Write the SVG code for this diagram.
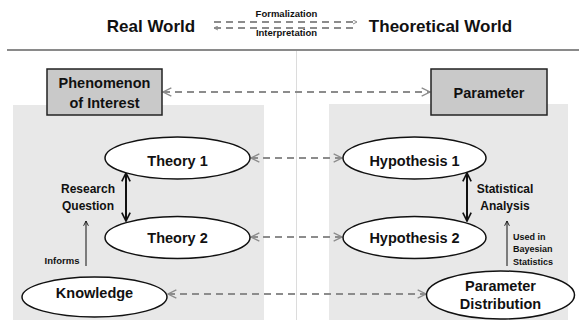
<svg xmlns="http://www.w3.org/2000/svg" width="579" height="320" viewBox="0 0 579 320">
<defs>
<style>
text{font-family:"Liberation Sans",Arial,sans-serif;font-weight:bold;fill:#111;text-anchor:middle}
.title{font-size:17px}
.node{font-size:14.5px}
.lab{font-size:12px}
.small{font-size:9.5px}
.tiny{font-size:9px;text-anchor:start}
.panel{fill:#e8e8e8}
.box{fill:#c9c9c9;stroke:#222;stroke-width:1.5}
.ell{fill:#fff;stroke:#111;stroke-width:1.5}
.dash{stroke:#8c8c8c;stroke-width:2;stroke-dasharray:7 5;fill:none}
.solid{stroke:#111;stroke-width:2;fill:none}
.thin{stroke:#111;stroke-width:1;fill:none}
</style>
<marker id="ga" viewBox="0 0 10 10" refX="9" refY="5" markerWidth="5" markerHeight="5" orient="auto-start-reverse" markerUnits="userSpaceOnUse" >
<path d="M1,1 L9,5 L1,9" fill="none" stroke="#8c8c8c" stroke-width="2"/>
</marker>
<marker id="gb" viewBox="0 0 12 12" refX="11" refY="6" markerWidth="10" markerHeight="10" orient="auto-start-reverse" markerUnits="userSpaceOnUse">
<path d="M1,1 L11,6 L1,11" fill="none" stroke="#8c8c8c" stroke-width="1.6"/>
</marker>
<marker id="ka" viewBox="0 0 12 12" refX="11" refY="6" markerWidth="10" markerHeight="10" orient="auto-start-reverse" markerUnits="userSpaceOnUse">
<path d="M1,1 L11,6 L1,11" fill="none" stroke="#111" stroke-width="2"/>
</marker>
<marker id="kt" viewBox="0 0 10 10" refX="9" refY="5" markerWidth="6" markerHeight="6" orient="auto" markerUnits="userSpaceOnUse">
<path d="M1,1 L9,5 L1,9" fill="none" stroke="#111" stroke-width="1.5"/>
</marker>
</defs>

<g id="background">
<rect class="panel" x="13" y="105" width="251" height="215"/>
<rect class="panel" x="329" y="104" width="239" height="216"/>
<line x1="7" y1="50" x2="579" y2="50" stroke="#8a8a8a" stroke-width="2"/>
<line x1="296.5" y1="51" x2="296.5" y2="320" stroke="#dcdcdc" stroke-width="1"/>
</g>

<g id="header">
<text class="title" x="151" y="32">Real World</text>
<text class="title" x="440.5" y="32">Theoretical World</text>
<text class="small" x="286.5" y="17">Formalization</text>
<text class="small" x="286.5" y="36">Interpretation</text>
</g>

<g id="connectors">
<line class="dash" x1="214" y1="22" x2="357" y2="22" marker-end="url(#ga)"/>
<line class="dash" x1="214" y1="28" x2="357" y2="28" marker-start="url(#ga)"/>
<line class="dash" x1="163" y1="92" x2="430" y2="92" marker-start="url(#gb)" marker-end="url(#gb)"/>
<line class="dash" x1="251" y1="158" x2="342" y2="158" marker-start="url(#gb)" marker-end="url(#gb)"/>
<line class="dash" x1="251" y1="237" x2="342" y2="237" marker-start="url(#gb)" marker-end="url(#gb)"/>
<line class="dash" x1="168" y1="294" x2="426" y2="294" marker-start="url(#gb)" marker-end="url(#gb)"/>
<line class="solid" x1="126" y1="173" x2="126" y2="221" marker-start="url(#ka)" marker-end="url(#ka)"/>
<line class="solid" x1="467" y1="173" x2="467" y2="221" marker-start="url(#ka)" marker-end="url(#ka)"/>
<line class="thin" x1="86" y1="266" x2="86" y2="221" marker-end="url(#kt)"/>
<line class="thin" x1="507" y1="266" x2="507" y2="221" marker-end="url(#kt)"/>
<text class="lab" x="88" y="193">Research</text>
<text class="lab" x="88" y="210">Question</text>
<text class="lab" x="505" y="193">Statistical</text>
<text class="lab" x="505" y="210">Analysis</text>
<text class="small" x="62" y="264">Informs</text>
<text class="tiny" x="513" y="240">Used in</text>
<text class="tiny" x="513" y="252">Bayesian</text>
<text class="tiny" x="513" y="265">Statistics</text>
</g>

<g id="phenomenon">
<rect class="box" x="47" y="69" width="115" height="46"/>
<text class="node" x="104.5" y="88">Phenomenon</text>
<text class="node" x="104.5" y="108">of Interest</text>
</g>
<g id="parameter">
<rect class="box" x="431" y="69" width="116" height="46"/>
<text class="node" x="489" y="98">Parameter</text>
</g>
<g id="theory1">
<ellipse class="ell" cx="177.5" cy="158" rx="72.5" ry="21"/>
<text class="node" x="177.5" y="166">Theory 1</text>
</g>
<g id="theory2">
<ellipse class="ell" cx="177.5" cy="237.5" rx="72.5" ry="21"/>
<text class="node" x="177.5" y="243">Theory 2</text>
</g>
<g id="hypothesis1">
<ellipse class="ell" cx="414.5" cy="158" rx="71.5" ry="21"/>
<text class="node" x="414.5" y="166">Hypothesis 1</text>
</g>
<g id="hypothesis2">
<ellipse class="ell" cx="414.5" cy="237.5" rx="71.5" ry="21"/>
<text class="node" x="414.5" y="243">Hypothesis 2</text>
</g>
<g id="knowledge">
<ellipse class="ell" cx="94.5" cy="297" rx="72.5" ry="20"/>
<text class="node" x="94.5" y="298">Knowledge</text>
</g>
<g id="parameter-distribution">
<ellipse class="ell" cx="500.5" cy="295" rx="74" ry="24"/>
<text class="node" x="500.5" y="291">Parameter</text>
<text class="node" x="500.5" y="309">Distribution</text>
</g>
</svg>
